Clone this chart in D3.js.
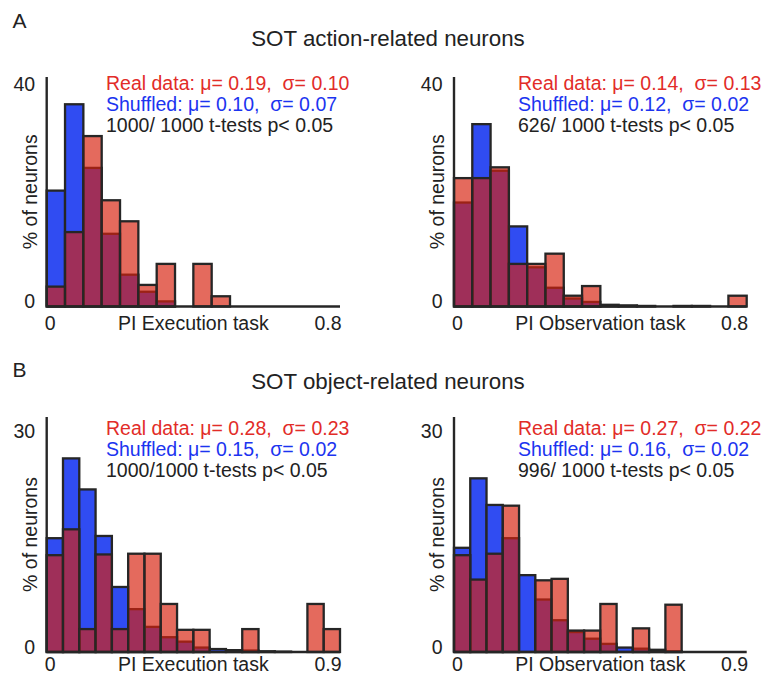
<!DOCTYPE html>
<html><head><meta charset="utf-8">
<script src="https://cdn.jsdelivr.net/npm/d3@7"></script>
<style>
body{margin:0;background:#fff}
svg{display:block}
text{font-family:"Liberation Sans",Arial,Helvetica,sans-serif}
</style>
</head><body>
<svg id="chart" width="767" height="679"></svg>
<script>
// ---------- data ----------
const binWidth = 0.05;
// Panel A (action-related), 16 bins of 0.05 from 0 to 0.8
const aExecShuffled = [20.4,35.6,24.4,12.8,5.6,2.6,0.9,0,0,0,0,0,0,0,0,0];
const aExecReal     = [3.5,13.1,30.0,18.7,15.0,3.8,7.5,0,7.5,1.8,0,0,0,0,0,0];
const aObsShuffled  = [18.3,32.1,23.9,14.1,6.9,3.3,1.4,0.8,0.3,0.2,0.1,0,0.1,0.1,0,0];
const aObsReal      = [22.6,22.6,24.5,7.5,7.5,9.3,1.9,3.6,0,0,0,0,0,0,0,1.9];
// Panel B (object-related), 18 bins of 0.05 from 0 to 0.9
const bExecShuffled = [15.4,26.2,22.0,15.7,8.8,5.8,3.4,2.0,1.4,0.6,0.4,0.25,0.2,0.1,0.05,0,0,0];
const bExecReal     = [13.1,16.6,3.1,13.2,3.1,13.3,13.3,6.5,3.0,3.0,0,0,3.1,0,0,0,6.5,3.1];
const bObsShuffled  = [14.1,23.5,19.9,15.4,10.4,7.1,4.3,2.7,1.8,1.1,0.6,0.45,0.3,0.1,0,0,0,0];
const bObsReal      = [13.1,9.8,13.3,19.8,0,9.7,9.9,2.9,2.9,6.5,0,3.2,0,6.4,0,0,0,0];

const yTicksA = [0, 40];
const yTicksB = [0, 30];
const xTicksA = [0, 0.8];
const xTicksB = [0, 0.9];
const xTickLabelsA = ["0", "0.8"];
const xTickLabelsB = ["0", "0.9"];

const legendAExec = ["Real data: μ= 0.19,  σ= 0.10", "Shuffled: μ= 0.10,  σ= 0.07", "1000/ 1000 t-tests p< 0.05"];
const legendAObs  = ["Real data: μ= 0.14,  σ= 0.13", "Shuffled: μ= 0.12,  σ= 0.02", "626/ 1000 t-tests p< 0.05"];
const legendBExec = ["Real data: μ= 0.28,  σ= 0.23", "Shuffled: μ= 0.15,  σ= 0.02", "1000/1000 t-tests p< 0.05"];
const legendBObs  = ["Real data: μ= 0.27,  σ= 0.22", "Shuffled: μ= 0.16,  σ= 0.02", "996/ 1000 t-tests p< 0.05"];

const xLabels = ["PI Execution task", "PI Observation task"];
const yLabel = "% of neurons";
const titles = ["SOT action-related neurons", "SOT object-related neurons"];
const panelLetters = ["A", "B"];

// ---------- style ----------
const BLUE = "rgb(48,76,242)";
const RED = "rgb(215,33,14)";
const RED_ALPHA = 0.67;
const EDGE = "#262626";
const TEXT_RED = "rgb(226,44,40)";
const TEXT_BLUE = "rgb(28,52,240)";
const TEXT_DARK = "#222";
const FS = 19.5;

const svg = d3.select("#chart");

const panels = [
  {shuffled: aExecShuffled, real: aExecReal, yTicks: yTicksA, xTicks: xTicksA, xTickLabels: xTickLabelsA, legend: legendAExec, xLabel: xLabels[0],
   x0: 46.7, x1: 340, yBase: 306.5, yTop: 77, yMax: 40.4, xLabY: 330, legX: 106, legY: 90},
  {shuffled: aObsShuffled, real: aObsReal, yTicks: yTicksA, xTicks: xTicksA, xTickLabels: xTickLabelsA, legend: legendAObs, xLabel: xLabels[1],
   x0: 454, x1: 746.7, yBase: 306.5, yTop: 77, yMax: 40.4, xLabY: 330, legX: 518, legY: 90},
  {shuffled: bExecShuffled, real: bExecReal, yTicks: yTicksB, xTicks: xTicksB, xTickLabels: xTickLabelsB, legend: legendBExec, xLabel: xLabels[0],
   x0: 46.7, x1: 340, yBase: 652, yTop: 417, yMax: 31.8, xLabY: 671, legX: 106, legY: 435},
  {shuffled: bObsShuffled, real: bObsReal, yTicks: yTicksB, xTicks: xTicksB, xTickLabels: xTickLabelsB, legend: legendBObs, xLabel: xLabels[1],
   x0: 454, x1: 746.7, yBase: 652, yTop: 417, yMax: 31.8, xLabY: 671, legX: 518, legY: 435}
];

panels.forEach(p => {
  const n = p.shuffled.length;
  const x = d3.scaleLinear().domain([0, n * binWidth]).range([p.x0, p.x1]);
  const y = d3.scaleLinear().domain([0, p.yMax]).range([p.yBase, p.yTop]);
  const g = svg.append("g");

  const bars = (vals, fill, op) => {
    g.append("g").selectAll("rect")
      .data(vals.map((v, i) => ({v, i})).filter(d => d.v > 0))
      .join("rect")
      .attr("x", d => x(d.i * binWidth))
      .attr("width", d => x((d.i + 1) * binWidth) - x(d.i * binWidth))
      .attr("y", d => y(d.v))
      .attr("height", d => y(0) - y(d.v))
      .attr("fill", fill)
      .attr("fill-opacity", op)
      .attr("stroke", EDGE)
      .attr("stroke-width", 2.3);
  };
  bars(p.shuffled, BLUE, 1);
  bars(p.real, RED, RED_ALPHA);

  // y axis
  const yAx = g.append("g").attr("transform", `translate(${p.x0},0)`)
    .call(d3.axisLeft(y).tickValues(p.yTicks).tickSize(0).tickSizeOuter(0).tickPadding(11.5).tickFormat(d3.format("d")));
  yAx.select(".domain").attr("d", `M0,${p.yBase}V${p.yTop}`).attr("stroke", EDGE).attr("stroke-width", 2.4);
  yAx.selectAll(".tick text")
    .attr("font-size", FS).attr("font-family", "Liberation Sans, Arial, sans-serif").attr("fill", TEXT_DARK)
    .attr("dy", null)
    .attr("y", d => {
      const base = y(d) + 0.35 * FS;
      const target = d === 0 ? Math.min(base, p.yBase + 1) : Math.max(base, p.yTop + 13.5);
      return target - y(d);
    });

  // x axis
  const xAx = g.append("g").attr("transform", `translate(0,${p.yBase})`)
    .call(d3.axisBottom(x).tickValues(p.xTicks).tickSize(0).tickSizeOuter(0).tickPadding(0)
      .tickFormat((d, i) => p.xTickLabels[i]));
  xAx.select(".domain").attr("d", `M${p.x0},0H${p.x1}`).attr("stroke", EDGE).attr("stroke-width", 2.4);
  xAx.selectAll(".tick text")
    .attr("font-size", FS).attr("font-family", "Liberation Sans, Arial, sans-serif").attr("fill", TEXT_DARK)
    .attr("dy", null)
    .attr("y", p.xLabY - p.yBase)
    .attr("text-anchor", (d, i) => i === 0 ? "middle" : "end")
    .attr("dx", (d, i) => i === 0 ? 3 : (p.x1 - x(d)) + 1);

  // x label
  g.append("text").attr("x", (p.x0 + p.x1) / 2).attr("y", p.xLabY)
    .attr("text-anchor", "middle").attr("font-size", FS).attr("fill", TEXT_DARK).text(p.xLabel);

  // y label
  g.append("text")
    .attr("transform", `translate(${p.x0 - 17},${(p.yBase + p.yTop) / 2}) rotate(-90)`)
    .attr("text-anchor", "middle").attr("dy", "0.35em")
    .attr("font-size", FS).attr("fill", TEXT_DARK).text(yLabel);

  // legend text
  const cols = [TEXT_RED, TEXT_BLUE, TEXT_DARK];
  p.legend.forEach((t, i) => {
    g.append("text").attr("x", p.legX).attr("y", p.legY + i * 21)
      .attr("font-size", FS).attr("fill", cols[i])
      .attr("xml:space", "preserve").style("white-space", "pre")
      .text(t);
  });
});

// titles and panel letters
[46, 389].forEach((yy, i) => {
  svg.append("text").attr("x", 388).attr("y", yy).attr("text-anchor", "middle")
    .attr("font-size", 22.3).attr("fill", TEXT_DARK).text(titles[i]);
});
[28.3, 376.5].forEach((yy, i) => {
  svg.append("text").attr("x", 12.5).attr("y", yy)
    .attr("font-size", 21).attr("fill", TEXT_DARK).text(panelLetters[i]);
});
</script>
</body></html>
